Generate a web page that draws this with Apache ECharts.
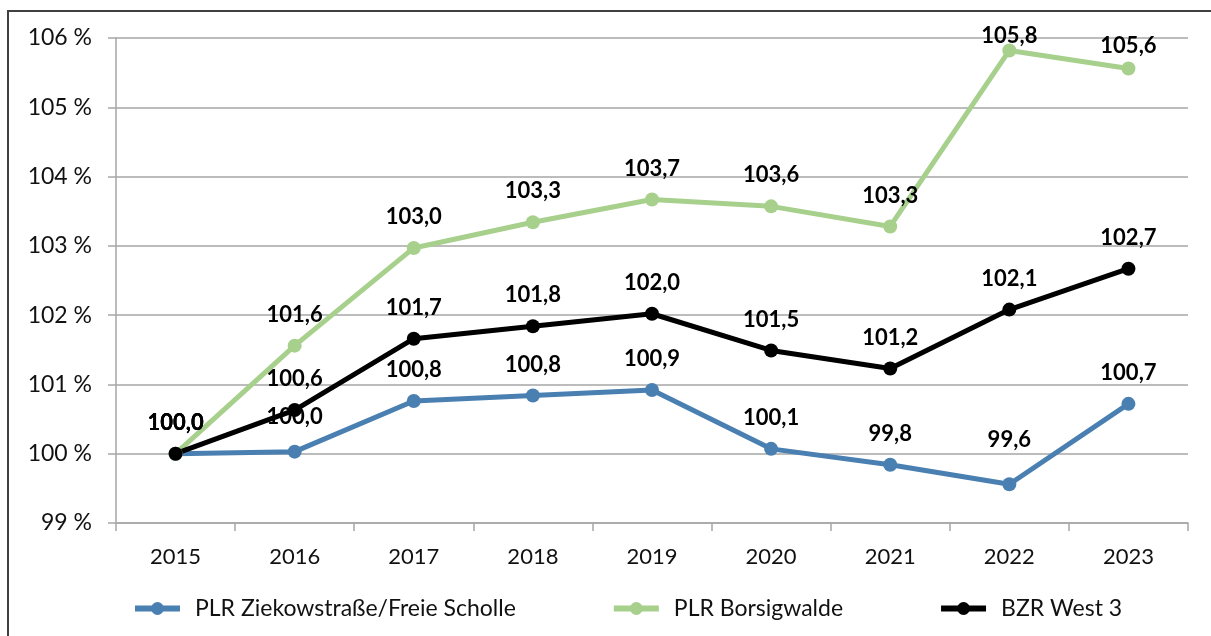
<!DOCTYPE html>
<html>
<head>
<meta charset="utf-8">
<script src="https://cdn.jsdelivr.net/npm/echarts@6/dist/echarts.min.js"></script>
<style>
html,body{margin:0;padding:0;background:#fff;}
#chart{width:1211px;height:636px;}
</style>
</head>
<body>
<div id="chart"></div>
<script>
const categories = ['2015','2016','2017','2018','2019','2020','2021','2022','2023'];
const seriesNames = ['PLR Ziekowstraße/Freie Scholle','PLR Borsigwalde','BZR West 3'];
const ziekowstrasse = [100.0, 100.03, 100.76, 100.84, 100.92, 100.07, 99.84, 99.56, 100.72];
const borsigwalde = [100.0, 101.56, 102.97, 103.34, 103.67, 103.57, 103.28, 105.82, 105.56];
const west3 = [100.0, 100.63, 101.66, 101.84, 102.02, 101.49, 101.23, 102.08, 102.67];
const yTicks = [99, 100, 101, 102, 103, 104, 105, 106];

const colors = ['#4a7fb1', '#a8d08d', '#000000'];
const FONT = 'Lato';

function fmt(v){ return (Math.round(v*10)/10).toFixed(1).replace('.', ','); }

// label placement tweaks (pixel offsets, not data)
const labelShift = {
  0: {1: [0, -4], 7: [0, -13]},
  1: {7: [0, 16], 8: [0, 8]},
  2: {}
};

function mkSeries(idx, name, data, color){
  return {
    name: name,
    type: 'line',
    data: data.map((v, i) => {
      const s = labelShift[idx][i];
      return s ? {value: v, label: {offset: s}} : v;
    }),
    symbol: 'circle',
    symbolSize: 14,
    lineStyle: {color: color, width: 5},
    itemStyle: {color: color},
    label: {
      show: true,
      position: 'top',
      distance: 13,
      fontFamily: FONT,
      fontSize: 22,
      fontWeight: 'bold',
      color: '#000',
      formatter: p => fmt(p.value)
    },
    animation: false
  };
}

const chart = echarts.init(document.getElementById('chart'), null, {renderer: 'canvas'});
chart.setOption({
  animation: false,
  textStyle: {fontFamily: FONT},
  graphic: [{
    type: 'rect',
    shape: {x: 8, y: 11, width: 1400, height: 800},
    style: {fill: 'none', stroke: '#404040', lineWidth: 2},
    silent: true,
    z: -10
  }],
  grid: {left: 116, right: 23, top: 38, bottom: 113},
  xAxis: {
    type: 'category',
    data: categories,
    boundaryGap: true,
    axisLine: {lineStyle: {color: '#a6a6a6', width: 1.5}},
    axisTick: {show: true, length: 8, lineStyle: {color: '#a6a6a6', width: 1.5}},
    axisLabel: {fontFamily: FONT, fontSize: 22, color: '#111', margin: 23}
  },
  yAxis: {
    type: 'value',
    min: yTicks[0],
    max: yTicks[yTicks.length-1],
    interval: 1,
    axisLine: {show: true, lineStyle: {color: '#a6a6a6', width: 1.5}},
    axisTick: {show: true, length: 8, lineStyle: {color: '#a6a6a6', width: 1.5}},
    splitLine: {lineStyle: {color: '#a6a6a6', width: 1.5}},
    axisLabel: {fontFamily: FONT, fontSize: 23, color: '#111', margin: 24, formatter: '{value} %'}
  },
  legend: {
    left: 127,
    top: 592,
    itemWidth: 45,
    itemHeight: 16,
    itemGap: 95,
    data: seriesNames,
    lineStyle: {width: 6},
    textStyle: {fontFamily: FONT, fontSize: 23, color: '#111', padding: [0,0,0,10]}
  },
  series: [
    mkSeries(0, seriesNames[0], ziekowstrasse, colors[0]),
    mkSeries(1, seriesNames[1], borsigwalde, colors[1]),
    mkSeries(2, seriesNames[2], west3, colors[2])
  ]
});
</script>
</body>
</html>
